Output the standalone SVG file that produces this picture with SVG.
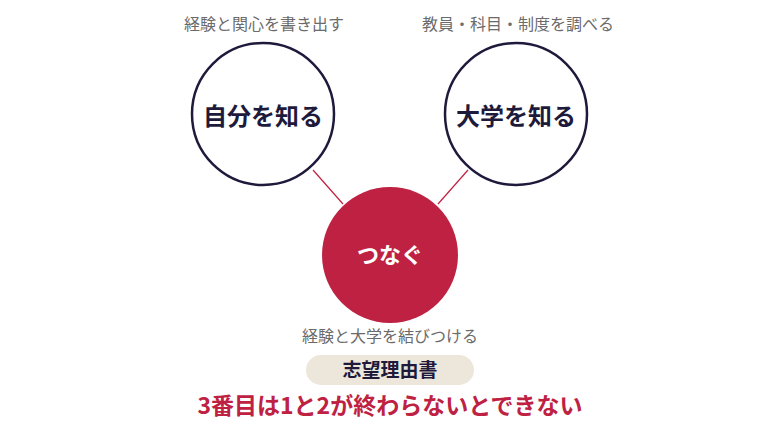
<svg xmlns="http://www.w3.org/2000/svg" width="780" height="426" viewBox="0 0 780 426">
<style>
text{font-family:"Noto Sans CJK JP","Noto Sans",sans-serif;text-anchor:middle}
.lbl{font-size:16px;fill:#6b6b6b}
.ring{fill:#fff;stroke:#1e1a3c;stroke-width:2.5}
.ttl{font-size:24px;font-weight:700;fill:#1e1a3c}
.conn{stroke:#c0213f;stroke-width:1.2}
</style>
<rect width="780" height="426" fill="#fff"/>
<g id="connectors">
<line class="conn" x1="313" y1="170" x2="343" y2="204"/>
<line class="conn" x1="468" y1="170" x2="438" y2="204"/>
</g>
<g id="self">
<text class="lbl" x="264" y="30">経験と関心を書き出す</text>
<circle class="ring" cx="263" cy="114" r="71"/>
<text class="ttl" x="263" y="125">自分を知る</text>
</g>
<g id="university">
<text class="lbl" x="518" y="30">教員・科目・制度を調べる</text>
<circle class="ring" cx="516" cy="114" r="71"/>
<text class="ttl" x="516" y="125">大学を知る</text>
</g>
<g id="connect">
<circle cx="390" cy="255" r="68" fill="#be2142"/>
<text x="390" y="263" font-size="22" font-weight="700" fill="#fff">つなぐ</text>
<text class="lbl" x="390" y="342">経験と大学を結びつける</text>
</g>
<g id="essay">
<rect x="306" y="355" width="168" height="30" rx="15" fill="#ede6da"/>
<text x="390" y="377" font-size="19" font-weight="700" fill="#1e1a3c">志望理由書</text>
</g>
<g id="note">
<text x="390" y="414" font-size="23" font-weight="700" fill="#be2142">3番目は1と2が終わらないとできない</text>
</g>
</svg>
